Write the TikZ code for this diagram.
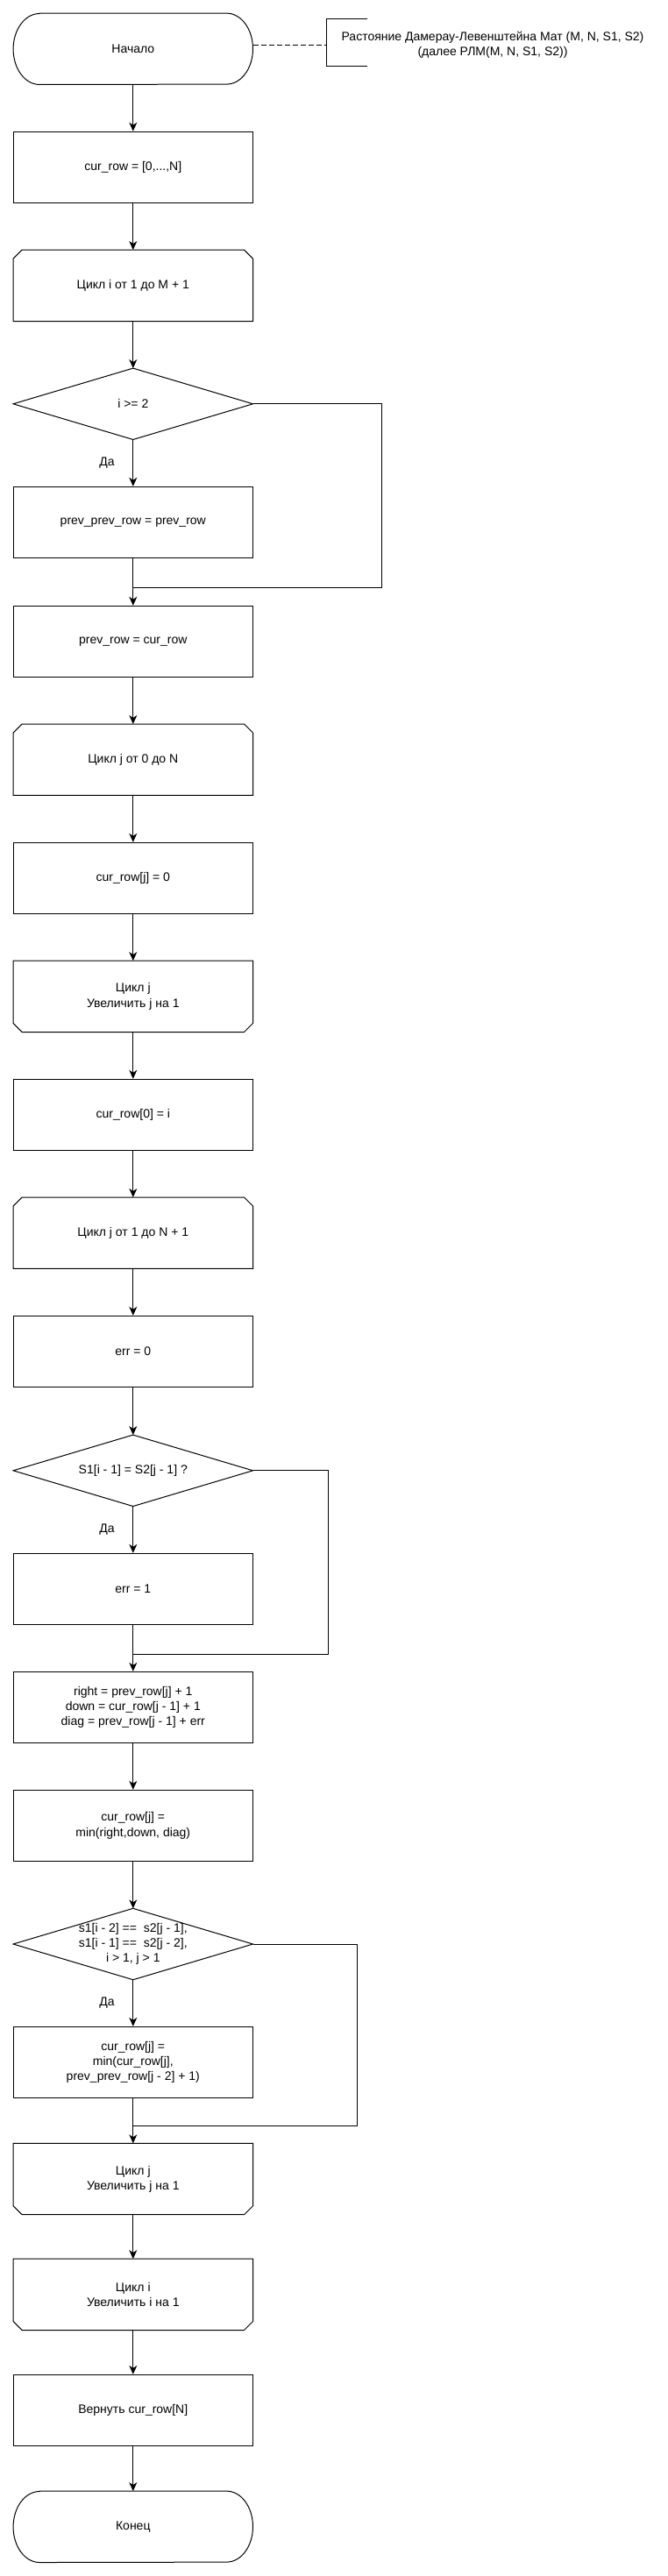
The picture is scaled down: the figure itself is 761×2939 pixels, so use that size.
\documentclass[tikz,border=0pt]{standalone}
\usepackage{fontspec}
\setmainfont{Liberation Sans}
\usetikzlibrary{arrows.meta,calc}
\newcommand\lpstart[1]{\draw[ln] ([yshift=-10pt]#1.north west) -- ([xshift=10pt]#1.north west) -- ([xshift=-10pt]#1.north east) -- ([yshift=-10pt]#1.north east) -- (#1.south east) -- (#1.south west) -- cycle;}
\newcommand\lpend[1]{\draw[ln] (#1.north west) -- (#1.north east) -- ([yshift=10pt]#1.south east) -- ([xshift=-10pt]#1.south east) -- ([xshift=10pt]#1.south west) -- ([yshift=10pt]#1.south west) -- cycle;}
\newcommand\diam[1]{\draw[ln] (#1.north) -- (#1.east) -- (#1.south) -- (#1.west) -- cycle;}
\newcommand\term[1]{\draw[ln] ([xshift=30pt]#1.north west) -- ([xshift=-30pt]#1.north east) arc[start angle=90,end angle=-90,x radius=30pt,y radius=40.5pt] -- ([xshift=30pt]#1.south west) arc[start angle=270,end angle=90,x radius=30pt,y radius=40.5pt] -- cycle;}
\begin{document}
\begin{tikzpicture}[x=1pt,y=1pt,
  every node/.style={font=\fontsize{14}{17.3}\selectfont, inner sep=0pt, align=center},
  blk/.style={rectangle, minimum width=273pt, minimum height=81pt},
  proc/.style={blk, draw, line width=1pt},
  ln/.style={line width=1pt},
  arr/.style={line width=1pt, -{Stealth[length=10pt,width=9pt,inset=3pt]}},
]
\fill[white] (0,0) rectangle (761,-2939);
\useasboundingbox (0,0) rectangle (761,-2939);

\node[blk] (start) at (151.8,-55.8) {Начало};
\node[proc] (init) at (151.8,-190.7) {cur\_row = [0,...,N]};
\node[blk] (loopi) at (151.8,-325.8) {Цикл i от 1 до M + 1};
\node[blk] (d1) at (151.8,-460.8) {i >= 2};
\node[proc] (pp) at (151.8,-595.8) {prev\_prev\_row = prev\_row};
\node[proc] (pr) at (151.8,-731.8) {prev\_row = cur\_row};
\node[blk] (loopj) at (151.8,-866.7) {Цикл j от 0 до N};
\node[proc] (zero) at (151.8,-1001.8) {cur\_row[j] = 0};
\node[blk] (endj1) at (151.8,-1136.8) {Цикл j\\Увеличить j на 1};
\node[proc] (c0) at (151.8,-1271.8) {cur\_row[0] = i};
\node[blk] (loopj2) at (151.8,-1406.7) {Цикл j от 1 до N + 1};
\node[proc] (e0) at (151.8,-1541.8) {err = 0};
\node[blk] (d2) at (151.8,-1677.8) {S1[i - 1] = S2[j - 1] ?};
\node[proc] (e1) at (151.8,-1812.8) {err = 1};
\node[proc] (rdd) at (151.8,-1947.8) {right = prev\_row[j] + 1\\down = cur\_row[j - 1] + 1\\diag = prev\_row[j - 1] + err};
\node[proc] (m1) at (151.8,-2082.8) {cur\_row[j] =\\min(right,down, diag)};
\node[blk] (d3) at (151.8,-2218) {s1[i - 2] ==\ \ s2[j - 1],\\s1[i - 1] ==\ \ s2[j - 2],\\i > 1, j > 1};
\node[proc] (m2) at (151.8,-2352.8) {cur\_row[j] =\\min(cur\_row[j],\\prev\_prev\_row[j - 2] + 1)};
\node[blk] (endj2) at (151.8,-2486) {Цикл j\\Увеличить j на 1};
\node[blk] (endi) at (151.8,-2617.8) {Цикл i\\Увеличить i на 1};
\node[proc] (ret) at (151.8,-2749.8) {Вернуть cur\_row[N]};
\node[blk] (stop) at (151.8,-2882.8) {Конец};

\term{start}
\term{stop}
\lpstart{loopi}
\lpstart{loopj}
\lpstart{loopj2}
\lpend{endj1}
\lpend{endj2}
\lpend{endi}
\diam{d1}
\diam{d2}
\diam{d3}

\node (yes1) at (122,-528.5) {Да};
\node (yes2) at (122,-1745.5) {Да};
\node (yes3) at (122,-2285.5) {Да};

\draw[arr] (start) -- (init);
\draw[arr] (init) -- (loopi);
\draw[arr] (loopi) -- (d1);
\draw[arr] (d1) -- (pp);
\draw[arr] (pp) -- (pr);
\draw[arr] (pr) -- (loopj);
\draw[arr] (loopj) -- (zero);
\draw[arr] (zero) -- (endj1);
\draw[arr] (endj1) -- (c0);
\draw[arr] (c0) -- (loopj2);
\draw[arr] (loopj2) -- (e0);
\draw[arr] (e0) -- (d2);
\draw[arr] (d2) -- (e1);
\draw[arr] (e1) -- (rdd);
\draw[arr] (rdd) -- (m1);
\draw[arr] (m1) -- (d3);
\draw[arr] (d3) -- (m2);
\draw[arr] (m2) -- (endj2);
\draw[arr] (endj2) -- (endi);
\draw[arr] (endi) -- (ret);
\draw[arr] (ret) -- (stop);

\coordinate (j1) at (151.8,-670.3);
\coordinate (r1) at (435.3,-670.3);
\draw[ln] (d1.east) -| (r1) -- (j1);
\coordinate (j2) at (151.8,-1887);
\coordinate (r2) at (374.3,-1887);
\draw[ln] (d2.east) -| (r2) -- (j2);
\coordinate (j3) at (151.8,-2425);
\coordinate (r3) at (407.3,-2425);
\draw[ln] (d3.east) -| (r3) -- (j3);

\coordinate (b1) at (419,-21.3);
\coordinate (b2) at (372.3,-21.3);
\coordinate (b3) at (372.3,-75.3);
\coordinate (b4) at (419,-75.3);
\coordinate (bm) at (372.3,-51.7);
\draw[ln] (b1) -- (b2) -- (b3) -- (b4);
\draw[ln,dash pattern=on 6pt off 3pt] (start.east |- bm) -- (bm);
\node (note) at (562,-51.2) {Растояние Дамерау-Левенштейна Мат (M, N, S1, S2)\\(далее РЛМ(M, N, S1, S2))};
\end{tikzpicture}
\end{document}
